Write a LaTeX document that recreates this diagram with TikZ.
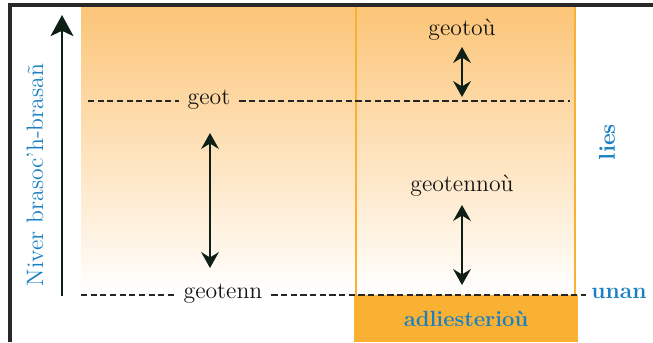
\documentclass[tikz,border=0pt]{standalone}
\usepackage{fontspec}
\usetikzlibrary{arrows.meta,positioning}

\definecolor{liesblue}{RGB}{27,128,194}
\definecolor{bandorange}{RGB}{249,177,51}
\definecolor{toporange}{RGB}{252,197,120}
\definecolor{framegray}{RGB}{40,40,40}
\definecolor{arrowdark}{RGB}{14,32,22}
\pgfdeclareverticalshading{fadeout}{100bp}{color(0bp)=(white); color(25bp)=(white); color(75bp)=(toporange); color(100bp)=(toporange)}

\begin{document}
\begin{tikzpicture}[x=0.02cm,y=-0.02cm]
    \tikzstyle{level text}=[font=\fontsize{13.5}{16}\selectfont, text=black!92, inner sep=5pt, anchor=mid]
    \tikzstyle{side text}=[font=\fontsize{13.5}{16}\selectfont, text=liesblue]
    \tikzstyle{dash line}=[dash pattern=on 3.5pt off 2pt, line width=0.7pt, draw=black!85]
    \tikzstyle{span arrow}=[{Stealth[length=9pt,width=10pt,inset=3pt]}-{Stealth[length=9pt,width=10pt,inset=3pt]}, line width=1.5pt, draw=arrowdark]

    \useasboundingbox (0,0) rectangle (653,342);

    % Draw the shaded field and the orange column
    \shade[shading=fadeout] (81,7) rectangle (575,295);
    \draw[bandorange, line width=1.2pt] (356,7) -- (356,295) (575,7) -- (575,295);
    \fill[bandorange] (354,295) rectangle (578,342);
    \node[side text, font=\fontsize{12.5}{15}\selectfont\bfseries] (adl) at (466,319) {adliesterioù};

    % Draw the frame
    \draw[framegray, line width=1.8pt] (10,342) -- (10,5) -- (653,5);

    % Draw the axis
    \coordinate (ax-b) at (62,296);
    \coordinate (ax-t) at (62,15);
    \draw[-{Stealth[length=12pt,width=13pt,inset=3pt]}, line width=1.4pt, draw=arrowdark] (ax-b) -- (ax-t);
    \node[side text, rotate=90] (niver) at (35,175) {Niver brasoc’h-brasañ};
    \node[side text, rotate=90, font=\fontsize{13}{16}\selectfont\bfseries] (lies) at (607,142) {lies};

    % Draw the two level lines
    \coordinate (geot-l) at (88,101);
    \coordinate (geot-r) at (570,101);
    \node[level text] (geot) at (209,101) {geot};
    \draw[dash line] (geot-l) -- (geot-l -| geot.west);
    \draw[dash line] (geot-r -| geot.east) -- (geot-r);

    \coordinate (geotenn-l) at (81,295);
    \coordinate (geotenn-r) at (586,295);
    \node[level text] (geotenn) at (223,295) {geotenn};
    \draw[dash line] (geotenn-l) -- (geotenn-l -| geotenn.west);
    \draw[dash line] (geotenn-r -| geotenn.east) -- (geotenn-r);
    \node[side text, anchor=mid, font=\fontsize{13}{16}\selectfont\bfseries] (unan) at (619,295) {unan};

    % Draw the column labels and the spans
    \node[level text] (geotou) at (462,32) {geotoù};
    \node[level text] (geotennou) at (462,188) {geotennoù};
    \foreach \name / \x / \top / \bot in {a/210/133/268, b/462/47/97, c/462/205/285}
      {
        \coordinate (\name-t) at (\x,\top);
        \coordinate (\name-b) at (\x,\bot);
        \draw[span arrow] (\name-t) -- (\name-b);
      }
\end{tikzpicture}
\end{document}
